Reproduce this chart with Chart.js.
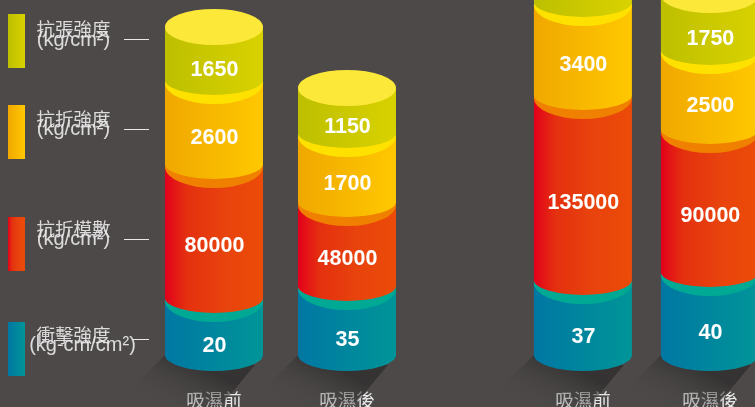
<!DOCTYPE html>
<html>
<head>
<meta charset="utf-8">
<style>html,body{margin:0;padding:0;background:#4c4948;overflow:hidden}canvas{display:block}</style>
<script src="https://cdn.jsdelivr.net/npm/chart.js@4"></script>
</head>
<body>
<canvas id="c" width="755" height="407"></canvas>
<script>
const categories = ['吸濕前', '吸濕後', '吸濕前', '吸濕後'];
const groupSlots = [1, 2, 3.774, 4.729];

// printed values (the tensile label of column 3 is off the picture)
const impactValues = [20, 35, 37, 40];
const flexModulusValues = [80000, 48000, 135000, 90000];
const flexStrengthValues = [2600, 1700, 3400, 2500];
const tensileValues = [1650, 1150, null, 1750];

// segment heights as drawn in the picture (the reference is not to scale)
const impactDrawn = [54, 66, 72, 80];
const flexModulusDrawn = [134, 84, 185, 143];
const flexStrengthDrawn = [84, 69, 93, 79];
const tensileDrawn = [56, 48, 60, 58];

const seriesNames = ['衝擊強度', '抗折模數', '抗折強度', '抗張強度'];
const seriesUnits = ['(kg-cm/cm²)', '(kg/cm²)', '(kg/cm²)', '(kg/cm²)'];

const sideColors = [
  [[0, '#0077a3'], [1, '#009598']],
  [[0, '#e3001b'], [0.22, '#e4300f'], [0.6, '#e8430d'], [1, '#ec4b08']],
  [[0, '#f0a800'], [1, '#ffc800']],
  [[0, '#bdbf00'], [1, '#d9d200']]
];
const faceColors = ['#00a994', '#f08000', '#ffe100', '#fce839'];
const labelNudge = [0, -4, -3, 0];
const legendBoxes = [[322, 376], [217, 271], [105, 159], [14, 68]];
const legendLines = [[133, 339], [124, 239], [124, 129], [124, 39]];
const legendTextY = [[335, 345], [229, 239], [119, 129], [29, 40]];

const FONT = '"Noto Sans CJK TC","Noto Sans",sans-serif';

function toPoints(arr) { return arr.map((v, i) => ({ x: groupSlots[i], y: v })); }

function sideGrad(ctx, stops, x0, x1) {
  const g = ctx.createLinearGradient(x0, 0, x1, 0);
  stops.forEach(s => g.addColorStop(s[0], s[1]));
  return g;
}

const cylinders = {
  id: 'cylinders',
  beforeDatasetsDraw(chart) {
    const ctx = chart.ctx;
    chart.getDatasetMeta(0).data.forEach(el => {
      const x0 = el.x - 49, x1 = el.x + 49, b = el.base;
      const g = ctx.createLinearGradient(x0 + 30, b + 8, x0 + 6, b + 54);
      g.addColorStop(0, 'rgba(44,42,42,0.72)');
      g.addColorStop(1, 'rgba(76,73,72,0)');
      ctx.save();
      ctx.fillStyle = g;
      ctx.beginPath();
      ctx.moveTo(x0, b);
      ctx.lineTo(x0 - 50, b + 50);
      ctx.lineTo(x1 - 50, b + 60);
      ctx.lineTo(x1 - 8, b + 10);
      ctx.closePath();
      ctx.fill();
      ctx.restore();
    });
  },
  afterDatasetsDraw(chart) {
    const ctx = chart.ctx;
    const n = chart.data.datasets.length;
    const labelJobs = [];
    for (let d = 0; d < n; d++) {
      const ds = chart.data.datasets[d];
      chart.getDatasetMeta(d).data.forEach((el, i) => {
        const cx = el.x, rx = 49, x0 = cx - rx, x1 = cx + rx;
        const top = el.y;
        const isBottom = d === 0, isTop = d === n - 1;
        const sideEnd = isBottom ? el.base : el.base - 3;
        const arc = isBottom ? 16 : 15;
        const faceRy = isTop ? 18 : 21;
        ctx.save();
        ctx.fillStyle = sideGrad(ctx, sideColors[d], x0, x1);
        ctx.beginPath();
        ctx.moveTo(x0, top);
        ctx.lineTo(x1, top);
        ctx.lineTo(x1, sideEnd);
        ctx.ellipse(cx, sideEnd, rx, arc, 0, 0, Math.PI);
        ctx.closePath();
        ctx.fill();
        ctx.fillStyle = faceColors[d];
        ctx.beginPath();
        ctx.ellipse(cx, top, rx, faceRy, 0, 0, Math.PI * 2);
        ctx.fill();
        ctx.restore();
        const val = ds.printed[i];
        if (val !== null) labelJobs.push([String(val), cx + 0.5, (top + faceRy + sideEnd + arc) / 2 + labelNudge[d]]);
      });
    }
    ctx.save();
    ctx.fillStyle = '#fff';
    ctx.font = 'bold 21.5px "Liberation Sans",Arial,sans-serif';
    ctx.textAlign = 'center';
    ctx.textBaseline = 'middle';
    labelJobs.forEach(j => ctx.fillText(j[0], j[1], j[2]));
    ctx.restore();

    // legend column
    ctx.save();
    seriesNames.forEach((name, i) => {
      const box = legendBoxes[i];
      ctx.fillStyle = sideGrad(ctx, sideColors[i], 8, 25);
      ctx.fillRect(8, box[0], 17, box[1] - box[0]);
      ctx.strokeStyle = '#e8e8e8';
      ctx.lineWidth = 1;
      ctx.beginPath();
      ctx.moveTo(legendLines[i][0], legendLines[i][1] + 0.5);
      ctx.lineTo(149, legendLines[i][1] + 0.5);
      ctx.stroke();
      ctx.fillStyle = 'rgba(232,232,232,0.92)';
      ctx.textBaseline = 'middle';
      ctx.textAlign = 'center';
      ctx.font = '18.5px ' + FONT;
      ctx.fillText(name, 73.5, legendTextY[i][0]);
      ctx.font = '20px "Liberation Sans",Arial,sans-serif';
      ctx.fillText(seriesUnits[i], i === 0 ? 82.5 : 73.5, legendTextY[i][1]);
    });
    ctx.restore();
  }
};

new Chart(document.getElementById('c'), {
  type: 'bar',
  plugins: [cylinders],
  data: {
    datasets: [
      { label: seriesNames[0], data: toPoints(impactDrawn), printed: impactValues },
      { label: seriesNames[1], data: toPoints(flexModulusDrawn), printed: flexModulusValues },
      { label: seriesNames[2], data: toPoints(flexStrengthDrawn), printed: flexStrengthValues },
      { label: seriesNames[3], data: toPoints(tensileDrawn), printed: tensileValues }
    ].map(d => Object.assign(d, { backgroundColor: 'transparent', borderWidth: 0, barThickness: 98, stack: 's' }))
  },
  options: {
    responsive: false,
    animation: false,
    layout: { padding: 0 },
    plugins: { legend: { display: false }, tooltip: { enabled: false } },
    scales: {
      x: {
        type: 'linear',
        stacked: true,
        offset: false,
        min: -0.609,
        max: 5.068,
        grid: { display: false, drawTicks: false },
        border: { display: false },
        afterBuildTicks(s) { s.ticks = groupSlots.map(v => ({ value: v })); },
        afterFit(s) { s.height = 20; },
        ticks: {
          autoSkip: false,
          maxRotation: 0,
          padding: 2,
          color: '#e8e8e8',
          font: { family: FONT, size: 18.5 },
          callback(v) { return categories[groupSlots.indexOf(v)]; }
        }
      },
      y: { display: false, stacked: true, min: -32, max: 355 }
    }
  }
});
</script>
</body>
</html>
